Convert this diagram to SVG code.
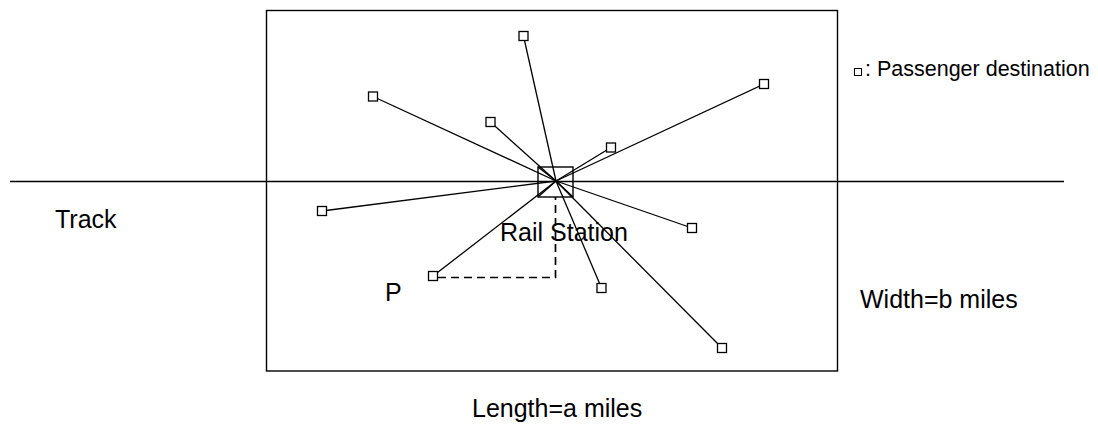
<svg xmlns="http://www.w3.org/2000/svg" width="1098" height="424" viewBox="0 0 1098 424">
<style>
.t{font-family:"Liberation Sans",Arial,sans-serif;fill:#000}
.ln{stroke:#000;stroke-width:1.3;fill:none}
.dst{fill:#fff;stroke:#000;stroke-width:1.3}
</style>
<rect width="1098" height="424" fill="#fff"/>
<g id="area"><rect x="266.5" y="10.5" width="571" height="360.5" fill="none" stroke="#000" stroke-width="1.4"/></g>
<g id="track"><line x1="10" y1="181.5" x2="1064" y2="181.5" stroke="#000" stroke-width="1.4"/></g>
<g id="connectors">
<line class="ln" x1="556" y1="181" x2="523.5" y2="36"/>
<line class="ln" x1="556" y1="181" x2="373" y2="96.5"/>
<line class="ln" x1="556" y1="181" x2="490.5" y2="122"/>
<line class="ln" x1="556" y1="181" x2="764" y2="84"/>
<line class="ln" x1="556" y1="181" x2="611" y2="147.5"/>
<line class="ln" x1="556" y1="181" x2="692" y2="228"/>
<line class="ln" x1="556" y1="181" x2="322" y2="211"/>
<line class="ln" x1="556" y1="181" x2="433" y2="276"/>
<line class="ln" x1="556" y1="181" x2="601.5" y2="288"/>
<line class="ln" x1="556" y1="181" x2="722" y2="348"/>
<line class="ln" x1="538" y1="197" x2="556" y2="181"/>
<line class="ln" x1="573" y1="197" x2="556" y2="181"/>
<line class="ln" x1="538" y1="167" x2="556" y2="181"/>
<path d="M438 277.5 H555.5 V197" fill="none" stroke="#000" stroke-width="1.7" stroke-dasharray="8,5"/>
</g>
<g id="station"><rect x="538" y="167" width="35" height="30" fill="none" stroke="#000" stroke-width="1.4"/></g>
<g id="destinations">
<rect class="dst" x="519" y="31.5" width="9" height="9"/>
<rect class="dst" x="368.5" y="92" width="9" height="9"/>
<rect class="dst" x="486" y="117.5" width="9" height="9"/>
<rect class="dst" x="759.5" y="79.5" width="9" height="9"/>
<rect class="dst" x="606.5" y="143" width="9" height="9"/>
<rect class="dst" x="687.5" y="223.5" width="9" height="9"/>
<rect class="dst" x="317.5" y="206.5" width="9" height="9"/>
<rect class="dst" x="428.5" y="271.5" width="9" height="9"/>
<rect class="dst" x="597" y="283.5" width="9" height="9"/>
<rect class="dst" x="717.5" y="343.5" width="9" height="9"/>
</g>
<g id="labels">
<text class="t" x="55" y="228" font-size="25">Track</text>
<text class="t" x="500" y="241" font-size="25">Rail Station</text>
<text class="t" x="385" y="301" font-size="25">P</text>
<text class="t" x="860" y="308" font-size="25">Width=b miles</text>
<text class="t" x="472" y="417" font-size="25">Length=a miles</text>
</g>
<g id="legend">
<rect x="854.5" y="68.5" width="7" height="7" fill="#fff" stroke="#000" stroke-width="1"/>
<text class="t" x="865" y="76" font-size="21.5">: Passenger destination</text>
</g>
</svg>
